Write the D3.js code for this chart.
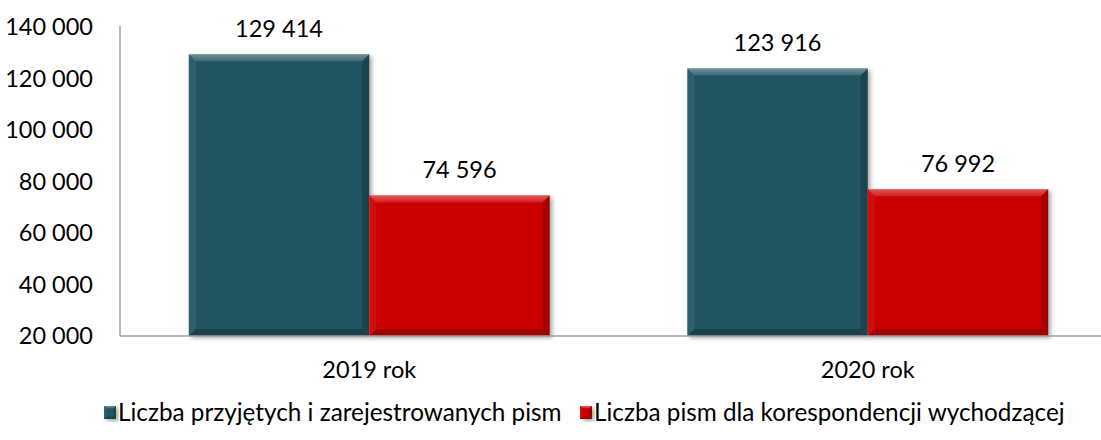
<!DOCTYPE html>
<html>
<head>
<meta charset="utf-8">
<script src="https://cdn.jsdelivr.net/npm/d3@7"></script>
<style>
  html, body { margin: 0; padding: 0; background: #fff; }
  svg text { font-family: Lato, "Open Sans", sans-serif; fill: #000; }
</style>
</head>
<body>
<svg id="chart" width="1101" height="440"></svg>
<script>
// Data
const categories = ["2019 rok", "2020 rok"];
const seriesNames = ["Liczba przyjętych i zarejestrowanych pism", "Liczba pism dla korespondencji wychodzącej"];
const received = [129414, 123916];
const outgoing = [74596, 76992];
const yTicks = [20000, 40000, 60000, 80000, 100000, 120000, 140000];

const colors = ["#235462", "#cc0505"];

const svg = d3.select("#chart");
const W = 1101, H = 440;
const plotL = 120, plotR = 1117, plotT = 27, plotB = 336;
const numSize = 23.5, legendSize = 24.3;

const fmt = v => d3.format(",")(v).replace(/,/g, " ");

const x0 = d3.scaleBand().domain(categories).range([plotL, plotR]).paddingInner(0.276).paddingOuter(0.138);
const x1 = d3.scaleBand().domain([0, 1]).range([0, x0.bandwidth()]);
const y = d3.scaleLinear().domain([20000, 140000]).range([plotB, plotT]);

// Shadow filter for the bars
const defs = svg.append("defs");
const f = defs.append("filter").attr("id", "shadow").attr("x", "-10%").attr("y", "-10%").attr("width", "130%").attr("height", "130%");
f.append("feDropShadow").attr("dx", 2.5).attr("dy", 2).attr("stdDeviation", 2).attr("flood-color", "#000").attr("flood-opacity", 0.35);

const topGrad = defs.append("linearGradient").attr("id", "topBevel").attr("x1", 0).attr("y1", 0).attr("x2", 0).attr("y2", 1);
topGrad.append("stop").attr("offset", "0%").attr("stop-color", "#fff").attr("stop-opacity", 0.35);
topGrad.append("stop").attr("offset", "100%").attr("stop-color", "#fff").attr("stop-opacity", 0.12);

// Axes
const yAxis = d3.axisLeft(y).tickValues(yTicks).tickFormat(fmt).tickSize(0).tickPadding(27);
const gy = svg.append("g").attr("transform", `translate(${plotL},0)`).call(yAxis);
gy.select(".domain").remove();
gy.selectAll("text").attr("font-size", numSize).style("font-family", "Lato, sans-serif");

const xAxis = d3.axisBottom(x0).tickSize(0).tickPadding(25);
const gx = svg.append("g").attr("transform", `translate(0,${plotB})`).call(xAxis);
gx.select(".domain").remove();
gx.selectAll("text").attr("font-size", numSize).style("font-family", "Lato, sans-serif");

// Bevelled bar
function bevelBar(g, bx, by, bw, bh, color, b) {
  const grp = g.append("g");
  grp.append("rect").attr("x", bx).attr("y", by).attr("width", bw).attr("height", bh)
    .attr("fill", color).attr("filter", "url(#shadow)");
  const pts = a => a.map(p => p.join(",")).join(" ");
  grp.append("polygon").attr("points", pts([[bx, by], [bx + bw, by], [bx + bw - b, by + b], [bx + b, by + b]]))
    .attr("fill", "url(#topBevel)");
  grp.append("polygon").attr("points", pts([[bx, by], [bx + b, by + b], [bx + b, by + bh - b], [bx, by + bh]]))
    .attr("fill", "#fff").attr("fill-opacity", 0.06);
  grp.append("polygon").attr("points", pts([[bx + bw, by], [bx + bw, by + bh], [bx + bw - b, by + bh - b], [bx + bw - b, by + b]]))
    .attr("fill", "#000").attr("fill-opacity", 0.2);
  grp.append("polygon").attr("points", pts([[bx, by + bh], [bx + bw, by + bh], [bx + bw - b, by + bh - b], [bx + b, by + bh - b]]))
    .attr("fill", "#000").attr("fill-opacity", 0.22);
}

const barsG = svg.append("g");
const series = [received, outgoing];
categories.forEach((c, i) => {
  series.forEach((s, j) => {
    const bx = x0(c) + x1(j);
    const by = y(s[i]);
    bevelBar(barsG, bx, by, x1.bandwidth(), plotB - by, colors[j], 7);
    svg.append("text").attr("x", bx + x1.bandwidth() / 2).attr("y", by - 17)
      .attr("text-anchor", "middle").attr("font-size", numSize).text(fmt(s[i]));
  });
});

// Axis lines
svg.append("line").attr("x1", plotL).attr("x2", plotL).attr("y1", plotT - 1).attr("y2", plotB)
  .attr("stroke", "#a0a0a0").attr("stroke-width", 1.5);
svg.append("line").attr("x1", plotL).attr("x2", W).attr("y1", plotB).attr("y2", plotB)
  .attr("stroke", "#a0a0a0").attr("stroke-width", 1.5);

// Legend
const legendX = [104, 580];
const legend = svg.append("g");
seriesNames.forEach((name, j) => {
  bevelBar(legend, legendX[j], 406, 12, 13, colors[j], 2.5);
  legend.append("text").attr("x", legendX[j] + 14).attr("y", 421)
    .attr("font-size", legendSize).text(name);
});
</script>
</body>
</html>
